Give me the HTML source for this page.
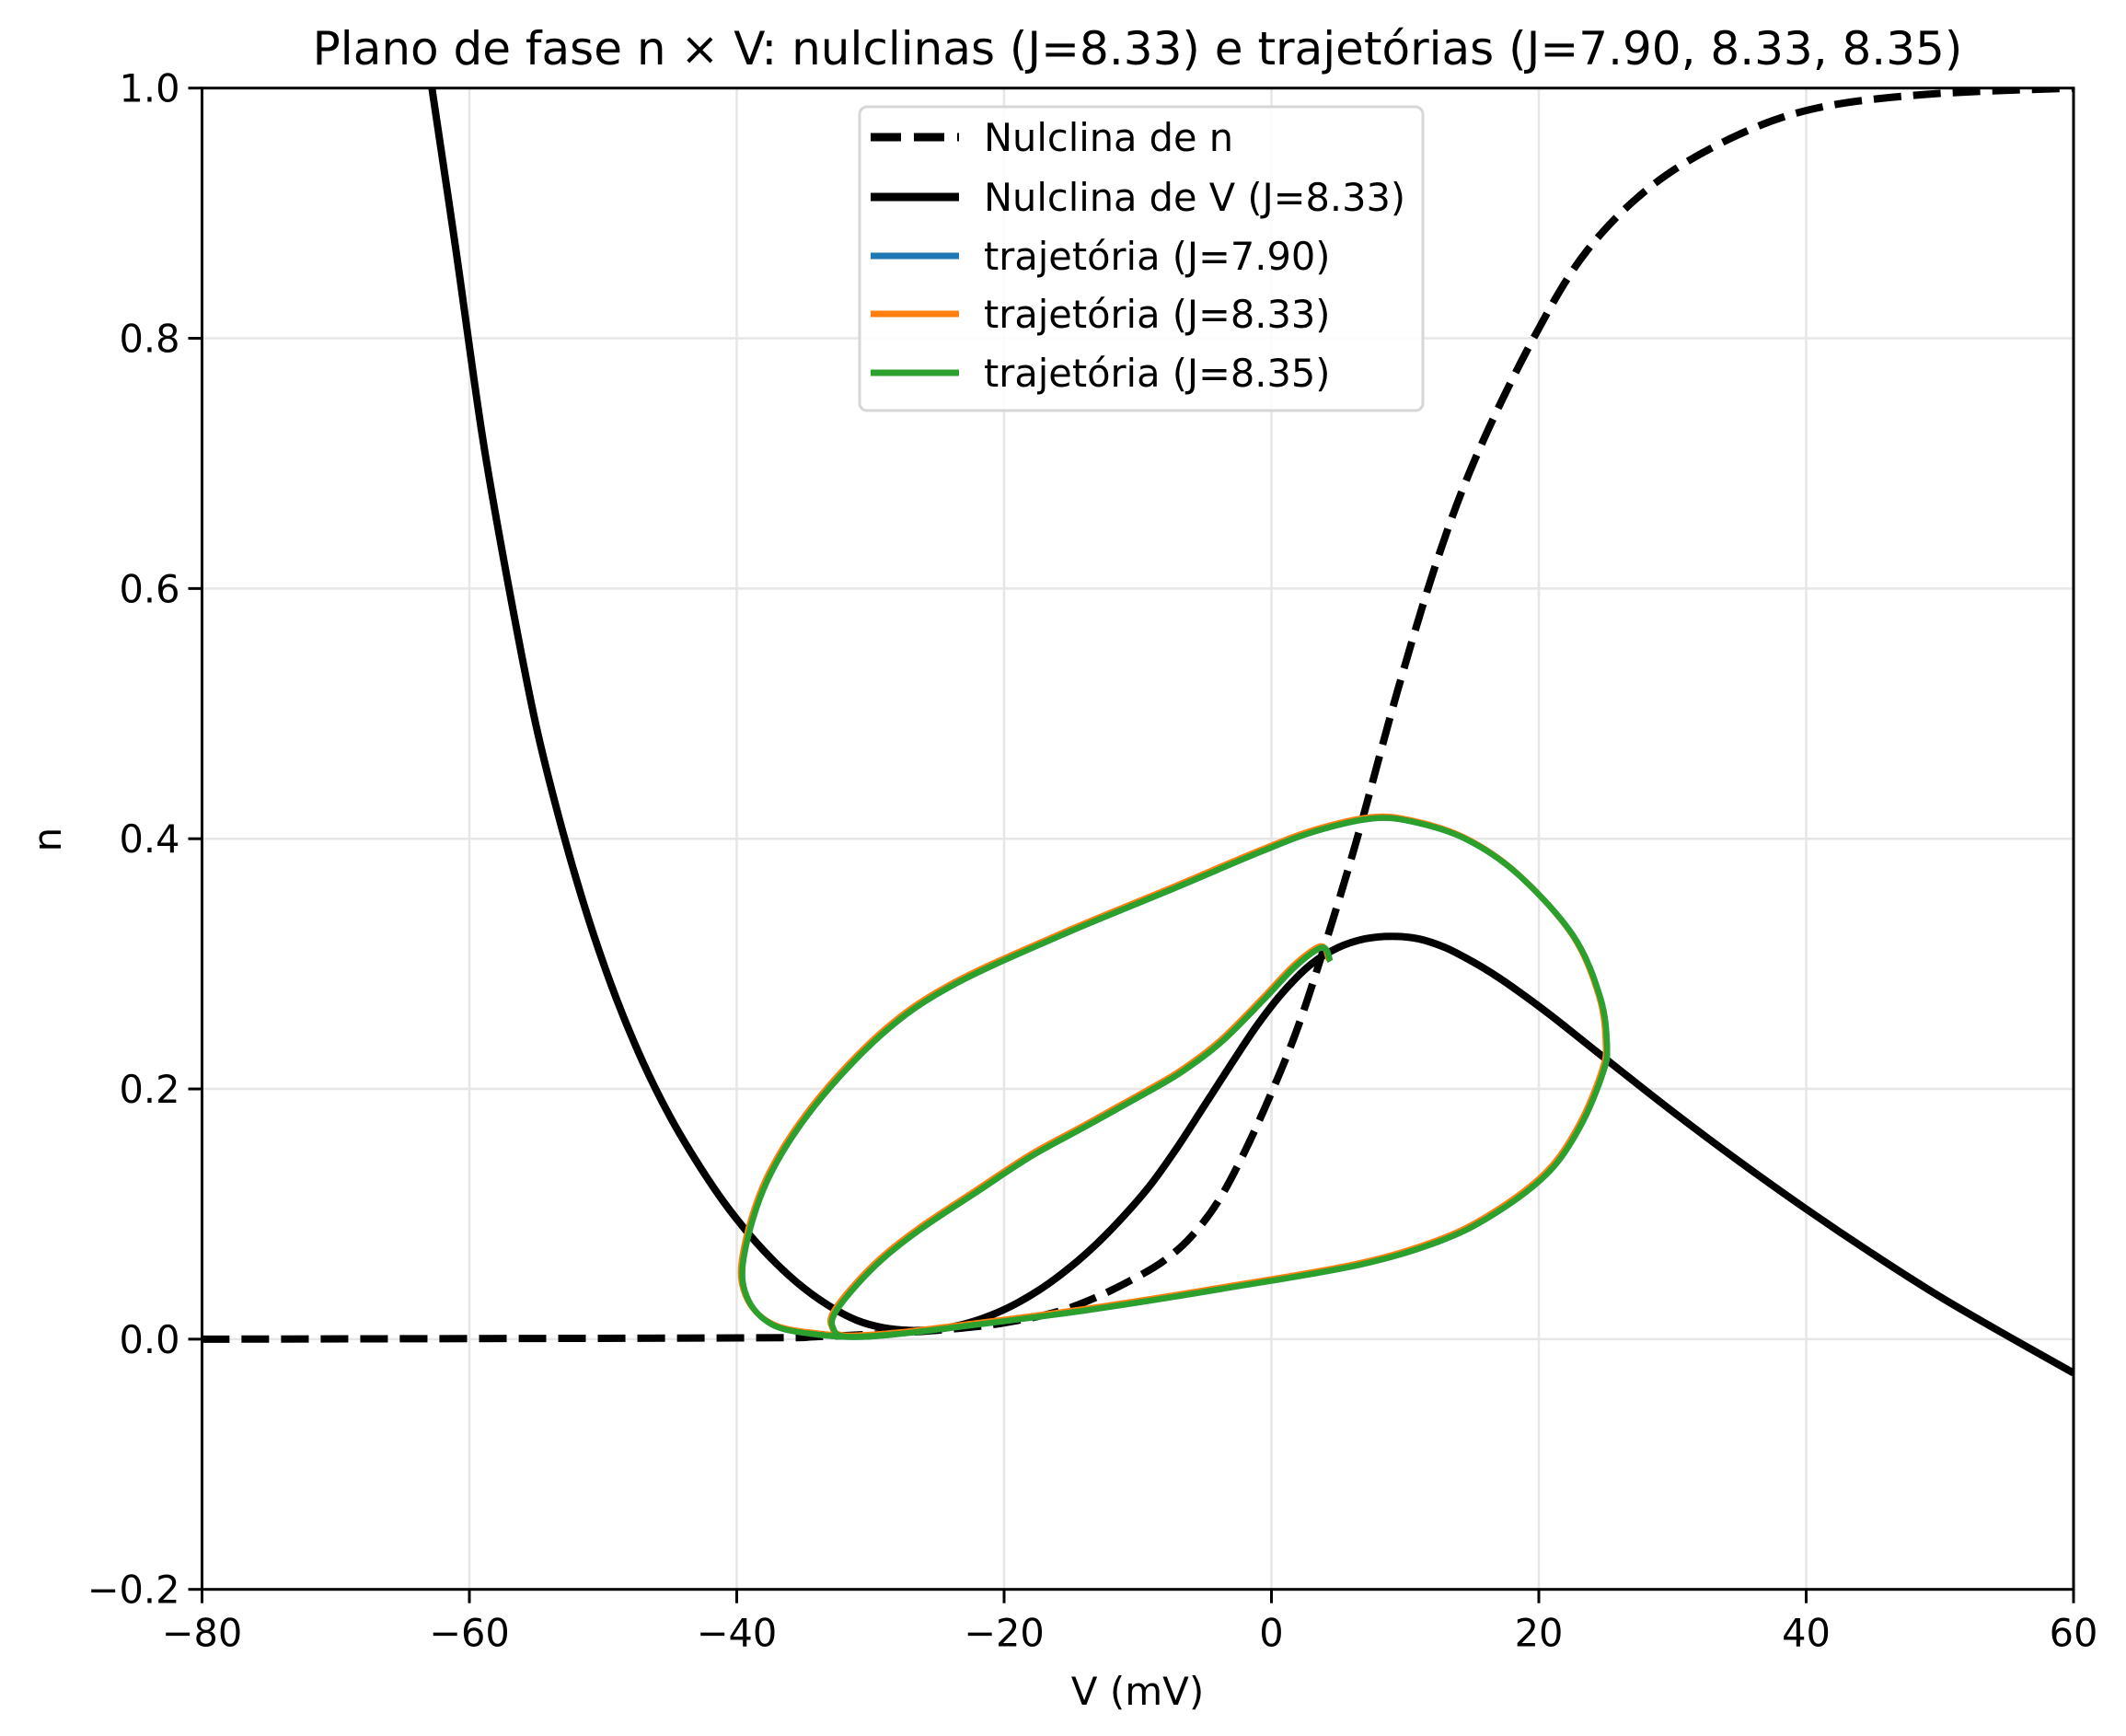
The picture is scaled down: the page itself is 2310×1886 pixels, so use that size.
<!DOCTYPE html>
<html><head><meta charset="utf-8">
<style>
html,body{margin:0;padding:0;background:#fff;}
svg{display:block;}
text{font-family:"DejaVu Sans","Liberation Sans",sans-serif;fill:#000;}
</style></head>
<body>
<svg id="chart" width="2310" height="1886" viewBox="0 0 2310 1886" xmlns="http://www.w3.org/2000/svg">
<rect width="2310" height="1886" fill="#fff"/>
<text x="1236" y="70" font-size="50" text-anchor="middle">Plano de fase n × V: nulclinas (J=8.33) e trajetórias (J=7.90, 8.33, 8.35)</text>
<g id="grid"></g>
<g id="plot"></g>
<g id="axes"></g>
<text x="1236" y="1852" font-size="42" text-anchor="middle">V (mV)</text>
<text x="0" y="0" font-size="42" text-anchor="middle" transform="translate(66,912) rotate(-90)">n</text>
<g>
<rect x="934" y="116" width="612" height="330" rx="8" fill="#fff" fill-opacity="0.85" stroke="#d6d6d6" stroke-width="3"/>
<line x1="946" y1="149" x2="1042" y2="149" stroke="#000" stroke-width="9" stroke-dasharray="33,14"/>
<text x="1069" y="164" font-size="41.5">Nulclina de n</text>
<line x1="946" y1="214" x2="1042" y2="214" stroke="#000" stroke-width="9"/>
<text x="1069" y="229" font-size="41.5">Nulclina de V (J=8.33)</text>
<line x1="946" y1="278" x2="1042" y2="278" stroke="#1f77b4" stroke-width="7"/>
<text x="1069" y="293" font-size="41.5">trajetória (J=7.90)</text>
<line x1="946" y1="341" x2="1042" y2="341" stroke="#ff7f0e" stroke-width="7"/>
<text x="1069" y="356" font-size="41.5">trajetória (J=8.33)</text>
<line x1="946" y1="405" x2="1042" y2="405" stroke="#2ca02c" stroke-width="7"/>
<text x="1069" y="420" font-size="41.5">trajetória (J=8.35)</text>
</g>
</svg>
<script>
const xTicks=[-80,-60,-40,-20,0,20,40,60];
const yTicks=[-0.2,0,0.2,0.4,0.6,0.8,1.0];
const yTickLabels=["−0.2","0.0","0.2","0.4","0.6","0.8","1.0"];
const xTickLabels=["−80","−60","−40","−20","0","20","40","60"];
const nNullV=[-80,-40,-34,-28,-24,-20,-16,-13,-10,-8,-6,-4,-2,0,2,4,6.4,9.4,12.5,15.5,19.6,23.6,28.7,34.8,40.8,49,60];
const nNullN=[0,0.001,0.002,0.005,0.008,0.013,0.022,0.034,0.05,0.063,0.082,0.11,0.15,0.197,0.25,0.315,0.40,0.517,0.626,0.71,0.80,0.87,0.924,0.962,0.984,0.995,1.0];
const vNullV=[-62.8,-61,-59,-57,-55,-53,-51,-49,-47,-45,-43,-41,-39,-37,-35,-33,-31,-29,-27,-25,-23,-21,-19,-17,-15,-13,-11,-9,-7,-5,-3,-1,1,3,5,7,9,11,13,15,17,19,21,23,25,30,35,40,45,50,55,60];
const vNullN=[1.0,0.87,0.72,0.598,0.49,0.405,0.333,0.272,0.221,0.178,0.142,0.11,0.083,0.06,0.041,0.026,0.015,0.009,0.007,0.008,0.012,0.019,0.029,0.042,0.058,0.077,0.099,0.124,0.154,0.187,0.22,0.252,0.279,0.30,0.313,0.32,0.322,0.32,0.313,0.302,0.289,0.274,0.258,0.241,0.224,0.182,0.142,0.104,0.068,0.034,0.003,-0.027];
const trajV=[4.4,3.8,1.8,-0.7,-3.8,-6.8,-9.85,-13.9,-18,-22,-26.1,-29.1,-31.3,-32.7,-32.8,-31.9,-28.1,-24,-13.9,-3.8,6.4,12.5,16.5,20.6,23.1,24.8,25.1,24.6,22.6,18.5,14.5,10.4,7.4,3.3,-0.7,-7.8,-15.9,-24,-29.1,-34.2,-37.7,-39.45,-39.25,-37.4,-34.2,-30.1,-24];
const trajN=[0.302,0.313,0.298,0.270,0.237,0.213,0.194,0.170,0.146,0.118,0.089,0.064,0.040,0.020,0.009,0.002,0.004,0.009,0.023,0.040,0.059,0.078,0.099,0.132,0.170,0.213,0.235,0.273,0.322,0.371,0.400,0.414,0.416,0.406,0.390,0.358,0.322,0.282,0.244,0.186,0.127,0.067,0.034,0.012,0.004,0.002,0.009];

const X0=219.5,X1=2253,Y0=95.7,Y1=1726.7,VMIN=-80,VMAX=60,NMIN=-0.2,NMAX=1.0;
const xs=v=>X0+(v-VMIN)/(VMAX-VMIN)*(X1-X0);
const ys=n=>Y1-(n-NMIN)/(NMAX-NMIN)*(Y1-Y0);
const NS='http://www.w3.org/2000/svg';
function mk(tag,attrs,parent){const e=document.createElementNS(NS,tag);for(const k in attrs)e.setAttribute(k,attrs[k]);parent.appendChild(e);return e;}
function smooth(V,N){const p=V.map((v,i)=>[xs(v),ys(N[i])]);let d='M'+p[0][0].toFixed(1)+' '+p[0][1].toFixed(1);
for(let i=0;i<p.length-1;i++){const a=p[Math.max(i-1,0)],b=p[i],c=p[i+1],e=p[Math.min(i+2,p.length-1)];
const c1=[b[0]+(c[0]-a[0])/6,b[1]+(c[1]-a[1])/6],c2=[c[0]-(e[0]-b[0])/6,c[1]-(e[1]-b[1])/6];
d+=' C'+c1[0].toFixed(1)+' '+c1[1].toFixed(1)+' '+c2[0].toFixed(1)+' '+c2[1].toFixed(1)+' '+c[0].toFixed(1)+' '+c[1].toFixed(1);}return d;}
const grid=document.getElementById('grid'),plot=document.getElementById('plot'),axes=document.getElementById('axes');
xTicks.forEach((t,i)=>{
 const g=mk('line',{x1:xs(t),x2:xs(t),y1:Y0,y2:Y1,stroke:'#e6e6e6','stroke-width':2.5},grid);
 
 
 const tk=mk('line',{x1:xs(t),x2:xs(t),y1:Y1,y2:Y1+15,stroke:'#000','stroke-width':3},axes);
 
 
 const tl=mk('text',{x:xs(t),y:Y1+62,'font-size':41.5,'text-anchor':'middle'},axes);tl.textContent=xTickLabels[i];
 
 
});
yTicks.forEach((t,i)=>{
 const g=mk('line',{x1:X0,x2:X1,y1:ys(t),y2:ys(t),stroke:'#e6e6e6','stroke-width':2.5},grid);
 
 
 const tk=mk('line',{x1:X0-15,x2:X0,y1:ys(t),y2:ys(t),stroke:'#000','stroke-width':3},axes);
 
 
 const tl=mk('text',{x:X0-24,y:ys(t)+15,'font-size':41.5,'text-anchor':'end'},axes);tl.textContent=yTickLabels[i];
 
 
});
const cp=mk('clipPath',{id:'clip'},plot);mk('rect',{x:X0,y:Y0,width:X1-X0,height:Y1-Y0},cp);
const c=mk('g',{'clip-path':'url(#clip)'},plot);
const l1=mk('path',{d:smooth(nNullV,nNullN),fill:'none',stroke:'#000','stroke-width':8,'stroke-dasharray':'30,13'},c);


const l2=mk('path',{d:smooth(vNullV,vNullN),fill:'none',stroke:'#000','stroke-width':8},c);


const t1=mk('path',{d:smooth(trajV,trajN),fill:'none',stroke:'#1f77b4','stroke-width':6.5,'stroke-linejoin':'round'},c);


const t2=mk('path',{d:smooth(trajV,trajN),fill:'none',stroke:'#ff7f0e','stroke-width':6.5,transform:'translate(-1.5,-1.5)'},c);


const t3=mk('path',{d:smooth(trajV,trajN),fill:'none',stroke:'#2ca02c','stroke-width':6.5,'stroke-linejoin':'round'},c);


const fr=mk('rect',{x:X0,y:Y0,width:X1-X0,height:Y1-Y0,fill:'none',stroke:'#000','stroke-width':3},axes);


</script>
</body></html>
